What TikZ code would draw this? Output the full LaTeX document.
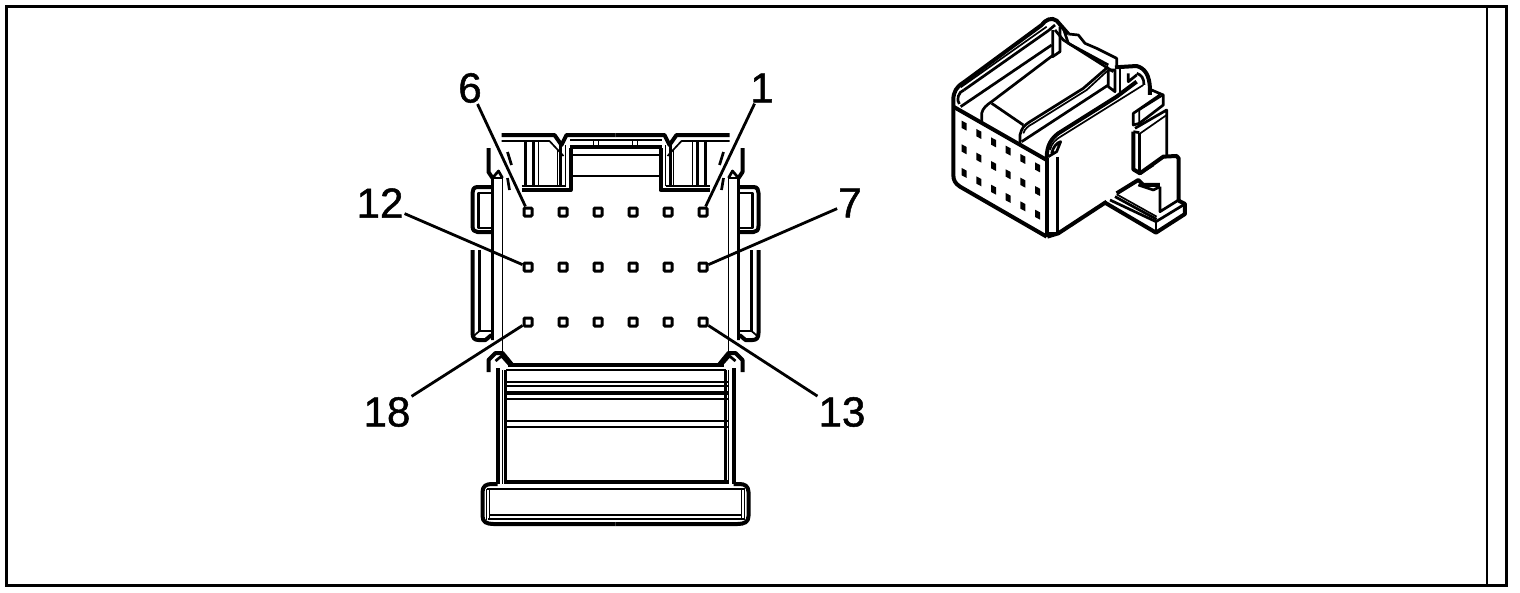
\documentclass[tikz,border=0pt]{standalone}
\usepackage{fontspec}
\setmainfont[AutoFakeBold=1.2]{Liberation Sans}
\usetikzlibrary{positioning,calc}
\tikzset{
  heavy/.style={line width=4pt, line join=round},
  medium/.style={line width=2.7pt, line join=round},
  fine/.style={line width=1.7pt, line join=round},
  pinbox/.style={draw, rectangle, fill=white, line width=3pt, inner sep=0pt, minimum size=8pt, rounded corners=1pt},
  pinlabel/.style={font=\fontsize{42}{42}\selectfont\bfseries, inner sep=1pt},
  leader/.style={line width=2.8pt}
}
\begin{document}
\begin{tikzpicture}[x=1pt, y=-1pt]
  \useasboundingbox (0,0) rectangle (1520,592);
  % Frame
  \draw [line width=3pt] (6,6) rectangle (1506,585);
  \draw [line width=2pt] (1487,6) -- (1487,585);
  % Front view, drawn once per side
  \foreach \s in {1,-1} {
    \begin{scope}[xshift=615.5pt, xscale=\s]
      % top edge
      \draw [heavy] (0,135) -- (-49,135) -- (-54,145) -- (-61,135) -- (-114,135);
      \draw [fine] (-114,141) -- (-66,141) -- (-52,156);
      \draw [fine] (0,140) -- (-46,140);
      \draw [heavy] (0,147) -- (-46,147);
      \draw [fine] (0,155) -- (-45,155);
      \draw [fine] (0,176) -- (-45,176);
      \draw [fine] (-22,140) -- (-22,146) (-17,140) -- (-17,146);
      \draw [heavy] (-45,148) -- (-45,190) -- (-94,190);
      \draw [fine] (-94,186) -- (-50,186);
      \draw [medium] (-55,145) -- (-55,186);
      \draw [fine] (-50,145) -- (-50,186);
      \draw [medium] (-90,142) -- (-90,186);
      \draw [medium] (-82,142) -- (-82,186);
      \draw [fine] (-77,142) -- (-77,186);
      \draw [fine] (-58,150) -- (-58,186);
      \draw [medium] (-108,152) -- (-104,165);
      \draw [medium] (-108,178) -- (-106,190);
      % side posts
      \draw [heavy] (-127,148) -- (-127,172) -- (-123,178);
      \draw [medium] (-123,340) -- (-123,178) -- (-117,171) -- (-113,178);
      \draw [fine] (-113,178) -- (-113,353);
      \draw [fine] (-123,178) -- (-113,178);
      % upper side tab
      \draw [heavy] (-124,187) -- (-138,187) .. controls (-142,187) and (-143,190) .. (-143,193)
        -- (-143,226) .. controls (-143,230) and (-141,232) .. (-138,232) -- (-124,232);
      \draw [medium] (-124,193) -- (-137,193) -- (-137,228) -- (-124,228);
      % lower side tab
      \draw [heavy] (-143,250) -- (-143,333) .. controls (-143,338) and (-141,340) .. (-137,340)
        -- (-130,340) -- (-124,335);
      \draw [medium] (-136,250) -- (-136,331) -- (-123,331);
      \draw [fine] (-143,337) -- (-136,331);
      % wedge above the skirt
      \draw [heavy] (-127,372) -- (-127,360) -- (-120,353) -- (-113,353) -- (-104,364);
      \draw [medium] (-120,361) -- (-114,356) -- (-106,365);
      % skirt
      \draw [heavy] (0,365) -- (-108,365);
      \draw [fine] (0,370) -- (-110,370);
      \draw [heavy] (-118,368) -- (-118,484);
      \draw [fine] (-113,370) -- (-113,484);
      \draw [medium] (-110,370) -- (-110,482);
      \foreach \yy in {382,386,421,427} {
        \draw [medium] (0,\yy) -- (-112,\yy);
      }
      \draw [heavy] (0,393) -- (-112,393);
      \draw [medium] (0,399) -- (-112,399);
      \draw [heavy] (0,482) -- (-112,482);
      \draw [medium] (0,489) -- (-129,489);
      % foot
      \draw [heavy] (0,524) -- (-122,524) .. controls (-129,524) and (-133,522) .. (-133,516)
        -- (-133,492) .. controls (-133,486) and (-129,484) .. (-124,484) -- (-118,484);
      \draw [fine] (-129,489) -- (-129,520);
      \draw [fine] (-126,489) -- (-126,519);
      \draw [medium] (0,515) -- (-126,515);
      \draw [medium] (0,519) -- (-128,519);
    \end{scope}
  }
  % Pins
  \foreach \n in {1,...,18} {
    \pgfmathsetmacro{\px}{703-35*mod(\n-1,6)}
    \pgfmathsetmacro{\py}{212+55*int((\n-1)/6)}
    \node [pinbox] (pin\n) at (\px,\py) {};
  }
  % Labels
  \node [pinlabel] (lab6) at (470,88) {6};
  \node [pinlabel] (lab1) at (762,88) {1};
  \node [pinlabel] (lab12) at (380,203) {12};
  \node [pinlabel] (lab7) at (850,203) {7};
  \node [pinlabel] (lab18) at (387,412) {18};
  \node [pinlabel] (lab13) at (842,412) {13};
  % Leaders
  \foreach \n in {1,6,7,12,13,18} {
    \draw [leader] (lab\n) -- (pin\n);
  }
  % Perspective view
  \begin{scope}[shift={(940,10)}, x=0.3333pt, y=-0.3333pt]
    % holes
    \foreach \col in {0,...,5} {
      \foreach \row in {0,1,2} {
        \fill ($(65+44*\col,332+25*\col+71*\row)$) -- ++(15,8) -- ++(0,22) -- ++(-15,-8) -- cycle;
      }
    }
    % outline
    \draw [heavy] (320,680) -- (60,530) .. controls (45,520) and (40,510) .. (40,495) -- (40,270)
      .. controls (40,245) and (50,230) .. (70,218) -- (305,45) .. controls (315,30) and (335,20) .. (350,32)
      -- (385,72);
    \draw [fine] (62,232) -- (320,50);
    \draw [medium] (72,240) -- (325,62) -- (345,45);
    \draw [medium] (58,282) .. controls (48,270) and (55,245) .. (72,240);
    \draw [medium] (62,290) -- (335,105);
    \draw [medium] (125,340) -- (125,310) .. controls (128,295) and (140,285) .. (155,275) -- (340,135);
    \draw [medium] (155,280) -- (250,345);
    \draw [heavy] (40,290) -- (320,450);
    \draw [medium] (338,60) -- (338,140) -- (360,125) -- (360,50);
    \draw [medium] (345,60) -- (370,90) -- (520,185);
    \draw [medium] (370,55) -- (385,100) -- (505,165);
    \draw [medium] (385,72) -- (415,75) -- (435,100) -- (470,115) -- (530,145) -- (530,172);
    \draw [medium] (240,405) -- (240,375) .. controls (245,355) and (250,348) .. (270,335) -- (430,235) -- (505,170);
    \draw [fine] (250,370) .. controls (255,355) and (265,348) .. (280,340) -- (440,240) -- (505,180);
    \draw [medium] (245,395) -- (505,225);
    \draw [heavy] (320,445) .. controls (320,405) and (335,385) .. (355,370) -- (530,260) -- (590,215);
    \draw [fine] (330,420) .. controls (335,400) and (345,390) .. (365,378) -- (610,225);
    \draw [medium] (335,430) .. controls (340,410) and (350,398) .. (362,395) -- (350,425) -- (325,440);
    \draw [heavy] (322,445) -- (322,680);
    \draw [medium] (352,440) -- (352,670);
    \draw [medium] (322,670) -- (352,670);
    \draw [heavy] (322,680) -- (355,670) -- (500,575);
    % rear tower
    \draw [medium] (505,180) -- (505,230) -- (525,245) -- (525,180) -- (505,180);
    \draw [medium] (540,175) -- (540,245);
    \draw [medium] (565,190) -- (565,215) -- (590,195);
    \draw [heavy] (525,172) -- (590,168) .. controls (615,175) and (628,195) .. (630,235) -- (630,255);
    \draw [medium] (590,190) .. controls (605,195) and (612,205) .. (612,225);
    \draw [medium] (630,238) -- (670,255) -- (670,285) -- (598,340) -- (580,345) -- (580,310) -- (660,255);
    \draw [fine] (598,340) -- (598,300) -- (670,255);
    \draw [medium] (585,355) -- (680,300) -- (680,435);
    \draw [fine] (598,372) -- (680,315);
    \draw [heavy] (580,365) -- (580,478) -- (600,490) -- (670,440) -- (710,438) -- (716,445) -- (716,575);
    \draw [medium] (598,368) -- (598,488);
    \draw [medium] (580,365) -- (598,368);
    \draw [medium] (600,490) -- (640,465);
    % foot
    \draw [medium] (660,530) -- (660,605) -- (716,570);
    \draw [heavy] (530,550) -- (595,510) -- (610,525) -- (660,525);
    \draw [medium] (595,525) -- (640,540) -- (660,530);
    \draw [heavy] (495,578) -- (648,668) -- (735,612) -- (735,582) -- (716,572);
    \draw [medium] (510,570) -- (648,635) -- (735,582);
    \draw [fine] (530,553) -- (650,620);
    \draw [medium] (525,560) -- (650,628);
    \draw [medium] (648,635) -- (648,668);
  \end{scope}
\end{tikzpicture}
\end{document}
